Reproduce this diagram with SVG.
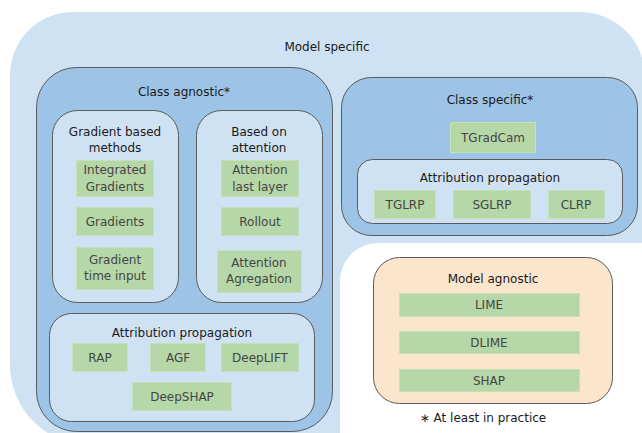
<svg xmlns="http://www.w3.org/2000/svg" width="642" height="433" viewBox="0 0 642 433">
<style>
text{font-family:"DejaVu Sans",Verdana,sans-serif;font-size:12px;text-anchor:middle}
.t{fill:#1a1a1a}
.g{fill:#454545}
.mid{fill:#9dc3e6;stroke:#5a5a5a;stroke-width:1}
.lt{fill:#cfe2f3;stroke:#5a5a5a;stroke-width:1}
.gr{fill:#b6d7a8;stroke:#c4e0b6;stroke-width:1}
.pe{fill:#fce5cd;stroke:#5a5a5a;stroke-width:1}
</style>
<rect width="642" height="433" fill="#ffffff"/>
<g id="model-specific">
<path d="M10,75 A63,63 0 0 1 73,12 L580,12 A65,65 0 0 1 645,77 L645,243 L378,243 A38,38 0 0 0 340,281 L340,445 L90,445 A80,80 0 0 1 10,365 Z" fill="#cfe2f3"/>
<text class="t" x="327" y="51">Model specific</text>
</g>
<g id="class-agnostic">
<rect class="mid" x="36.5" y="67.5" width="296" height="364" rx="40" ry="40"/>
<text class="t" x="184" y="96">Class agnostic*</text>
</g>
<g id="gradient-based">
<rect class="lt" x="52.5" y="110.5" width="126" height="192" rx="25" ry="25"/>
<text class="t" x="115" y="136">Gradient based</text>
<text class="t" x="115" y="152">methods</text>
</g>
<g id="integrated-gradients">
<rect class="gr" x="76.5" y="160.5" width="77" height="36"/>
<text class="g" x="115" y="174">Integrated</text>
<text class="g" x="115" y="191">Gradients</text>
</g>
<g id="gradients">
<rect class="gr" x="76.5" y="207.5" width="77" height="28"/>
<text class="g" x="115" y="226">Gradients</text>
</g>
<g id="gradient-time-input">
<rect class="gr" x="76.5" y="247.5" width="77" height="42"/>
<text class="g" x="115" y="264">Gradient</text>
<text class="g" x="115" y="280">time input</text>
</g>
<g id="based-on-attention">
<rect class="lt" x="196.5" y="110.5" width="126" height="192" rx="25" ry="25"/>
<text class="t" x="259" y="136">Based on</text>
<text class="t" x="259" y="152">attention</text>
</g>
<g id="attention-last-layer">
<rect class="gr" x="221.5" y="160.5" width="77" height="36"/>
<text class="g" x="260" y="174">Attention</text>
<text class="g" x="260" y="191">last layer</text>
</g>
<g id="rollout">
<rect class="gr" x="221.5" y="207.5" width="77" height="28"/>
<text class="g" x="260" y="226">Rollout</text>
</g>
<g id="attention-agregation">
<rect class="gr" x="217.5" y="250.5" width="84" height="42"/>
<text class="g" x="259" y="267">Attention</text>
<text class="g" x="259" y="283">Agregation</text>
</g>
<g id="attribution-left">
<rect class="lt" x="49.5" y="313.5" width="265" height="108" rx="22" ry="22"/>
<text class="t" x="182" y="337">Attribution propagation</text>
</g>
<g id="rap">
<rect class="gr" x="72.5" y="343.5" width="55" height="28"/>
<text class="g" x="100" y="362">RAP</text>
</g>
<g id="agf">
<rect class="gr" x="150.5" y="343.5" width="55" height="28"/>
<text class="g" x="178" y="362">AGF</text>
</g>
<g id="deeplift">
<rect class="gr" x="221.5" y="343.5" width="77" height="28"/>
<text class="g" x="260" y="362">DeepLIFT</text>
</g>
<g id="deepshap">
<rect class="gr" x="132.5" y="382.5" width="99" height="28"/>
<text class="g" x="182" y="401">DeepSHAP</text>
</g>
<g id="class-specific">
<rect class="mid" x="341.5" y="77.5" width="296" height="158" rx="30" ry="30"/>
<text class="t" x="490" y="104">Class specific*</text>
</g>
<g id="tgradcam">
<rect class="gr" x="450.5" y="122.5" width="85" height="30"/>
<text class="g" x="493" y="142">TGradCam</text>
</g>
<g id="attribution-right">
<rect class="lt" x="357.5" y="159.5" width="265" height="64" rx="15" ry="15"/>
<text class="t" x="490" y="182">Attribution propagation</text>
</g>
<g id="tglrp">
<rect class="gr" x="374.5" y="190.5" width="61" height="28"/>
<text class="g" x="405" y="209">TGLRP</text>
</g>
<g id="sglrp">
<rect class="gr" x="453.5" y="190.5" width="77" height="28"/>
<text class="g" x="492" y="209">SGLRP</text>
</g>
<g id="clrp">
<rect class="gr" x="548.5" y="190.5" width="56" height="28"/>
<text class="g" x="576" y="209">CLRP</text>
</g>
<g id="model-agnostic">
<rect class="pe" x="373.5" y="257.5" width="239" height="146" rx="26" ry="26"/>
<text class="t" x="493" y="283">Model agnostic</text>
</g>
<g id="lime">
<rect class="gr" x="399.5" y="293.5" width="180" height="23"/>
<text class="g" x="489" y="309">LIME</text>
</g>
<g id="dlime">
<rect class="gr" x="399.5" y="331.5" width="180" height="22"/>
<text class="g" x="489" y="347">DLIME</text>
</g>
<g id="shap">
<rect class="gr" x="399.5" y="369.5" width="180" height="22"/>
<text class="g" x="489" y="385">SHAP</text>
</g>
<g id="connectors"></g>
<text class="t" x="483" y="422">∗ At least in practice</text>
</svg>
